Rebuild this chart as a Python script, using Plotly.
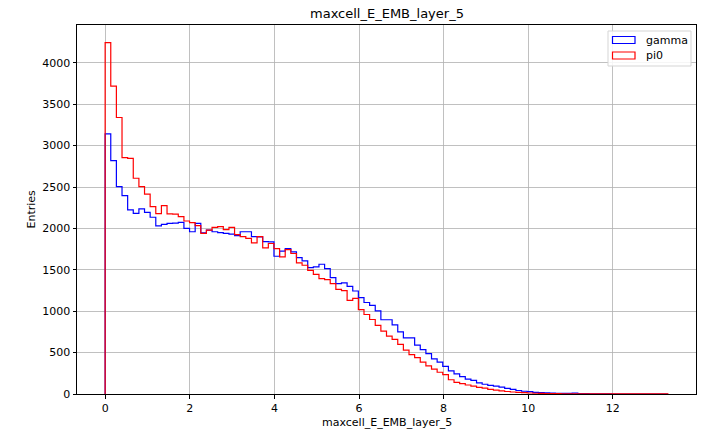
import numpy as np
import plotly.graph_objects as go

# ---- data ----
x_min = 0.0
x_max = 13.3
n_bins = 100

gamma_counts = [
    3141, 2818, 2504, 2396, 2223, 2183, 2235, 2195, 2135, 2030,
    2050, 2060, 2065, 2072, 2000, 1960, 2060, 1948, 1980, 1960,
    1950, 1940, 1930, 1912, 1960, 1960, 1900, 1898, 1840, 1838,
    1664, 1725, 1757, 1716, 1648, 1607, 1527, 1535, 1567, 1515,
    1406, 1333, 1343, 1300, 1244, 1164, 1105, 1070, 1005, 897,
    897, 836, 750, 679, 679, 590, 535, 488, 424, 384,
    333, 280, 242, 210, 180, 165, 135, 118, 105, 95,
    82, 69, 57, 42, 33, 28, 20, 16, 13, 12,
    9, 8, 7, 10, 5, 4, 3, 2, 2, 1,
    0, 0, 0, 0, 0, 0, 0, 0, 0, 0,
]

pi0_counts = [
    4245, 3720, 3340, 2855, 2847, 2606, 2505, 2414, 2263, 2180,
    2275, 2175, 2172, 2142, 2090, 2070, 2035, 1940, 1980, 2012,
    2022, 1985, 2012, 1925, 1900, 1880, 1825, 1900, 1765, 1818,
    1757, 1656, 1745, 1697, 1583, 1555, 1494, 1446, 1394, 1382,
    1333, 1264, 1248, 1131, 1155, 1018, 960, 900, 830, 760,
    700, 660, 600, 530, 475, 440, 385, 340, 300, 263,
    234, 172, 141, 125, 109, 95, 81, 70, 55, 48,
    38, 30, 24, 20, 16, 12, 9, 7, 6, 5,
    4, 3, 3, 2, 2, 2, 2, 1, 1, 1,
    1, 1, 1, 1, 1, 1, 1, 1, 1, 1,
]

series_names = ["gamma", "pi0"]
series_colors = ["#0000ff", "#ff0000"]
x_ticks = [0, 2, 4, 6, 8, 10, 12]
y_ticks = [0, 500, 1000, 1500, 2000, 2500, 3000, 3500, 4000]

title_text = "maxcell_E_EMB_layer_5"
x_label = "maxcell_E_EMB_layer_5"
y_label = "Entries"

# ---- build step outlines ----
edges = np.linspace(x_min, x_max, n_bins + 1)


def step_xy(counts):
    xs = [edges[0]] + list(edges[:-1]) + [edges[-1]]
    ys = [0] + list(counts) + [0]
    return xs, ys


FONT = "DejaVu Sans"
fig = go.Figure()
for name, counts, col in zip(series_names, [gamma_counts, pi0_counts], series_colors):
    xs, ys = step_xy(counts)
    fig.add_trace(go.Scatter(x=xs, y=ys, mode="lines", line=dict(color=col, width=1.2, shape="hv"),
                             name=name, showlegend=False, hoverinfo="skip"))

span = x_max - x_min
ymax = max(max(gamma_counts), max(pi0_counts)) * 1.05

# plot area in px
L, R, T, B = 77, 696, 25, 394
W, H = R - L, B - T


def px2paper_x(px):
    return (px - L) / W


def px2paper_y(py):
    return (B - py) / H


shapes = []
annotations = []
# legend box
shapes.append(dict(type="rect", xref="paper", yref="paper",
                   x0=px2paper_x(608), x1=px2paper_x(691), y0=px2paper_y(66), y1=px2paper_y(31),
                   line=dict(color="#d5d5d5", width=1), fillcolor="rgba(255,255,255,0.85)", layer="above"))
legend_y = [40, 55.5]
for name, col, yc in zip(series_names, series_colors, legend_y):
    shapes.append(dict(type="rect", xref="paper", yref="paper",
                       x0=px2paper_x(612.5), x1=px2paper_x(635), y0=px2paper_y(yc + 3.5), y1=px2paper_y(yc - 3.5),
                       line=dict(color=col, width=1.2), fillcolor="rgba(0,0,0,0)", layer="above"))
    annotations.append(dict(text=name, xref="paper", yref="paper", x=px2paper_x(643.5), y=px2paper_y(yc),
                            xanchor="left", yanchor="middle", showarrow=False,
                            font=dict(family=FONT, size=11, color="#000000")))

annotations.append(dict(text=title_text, xref="paper", yref="paper", x=0.5, y=px2paper_y(14),
                        xanchor="center", yanchor="middle", showarrow=False,
                        font=dict(family=FONT, size=13, color="#000000")))
annotations.append(dict(text=x_label, xref="paper", yref="paper", x=0.5, y=px2paper_y(422),
                        xanchor="center", yanchor="middle", showarrow=False,
                        font=dict(family=FONT, size=11, color="#000000")))
annotations.append(dict(text=y_label, xref="paper", yref="paper", x=px2paper_x(31), y=0.5,
                        xanchor="center", yanchor="middle", showarrow=False, textangle=-90,
                        font=dict(family=FONT, size=11, color="#000000")))

axis_common = dict(showgrid=True, gridcolor="#b0b0b0", gridwidth=0.8, zeroline=False,
                   showline=True, linecolor="#000000", linewidth=1, mirror=True,
                   ticks="outside", ticklen=3.5, tickwidth=1, tickcolor="#000000",
                   tickfont=dict(family=FONT, size=11, color="#000000"))

fig.update_layout(
    width=709, height=434,
    margin=dict(l=L, r=709 - R, t=T, b=434 - B, pad=0),
    paper_bgcolor="#ffffff", plot_bgcolor="#ffffff",
    showlegend=False,
    xaxis=dict(range=[x_min - 0.05 * span, x_max + 0.05 * span], tickvals=x_ticks,
               ticktext=[str(v) for v in x_ticks], **axis_common),
    yaxis=dict(range=[0, ymax], tickvals=y_ticks, ticktext=[str(v) for v in y_ticks], **axis_common),
    shapes=shapes,
    annotations=annotations,
)

fig.write_html("out.html", config={"displayModeBar": False, "staticPlot": True},
               post_script="document.body.style.margin='0';document.body.style.overflow='hidden';")
